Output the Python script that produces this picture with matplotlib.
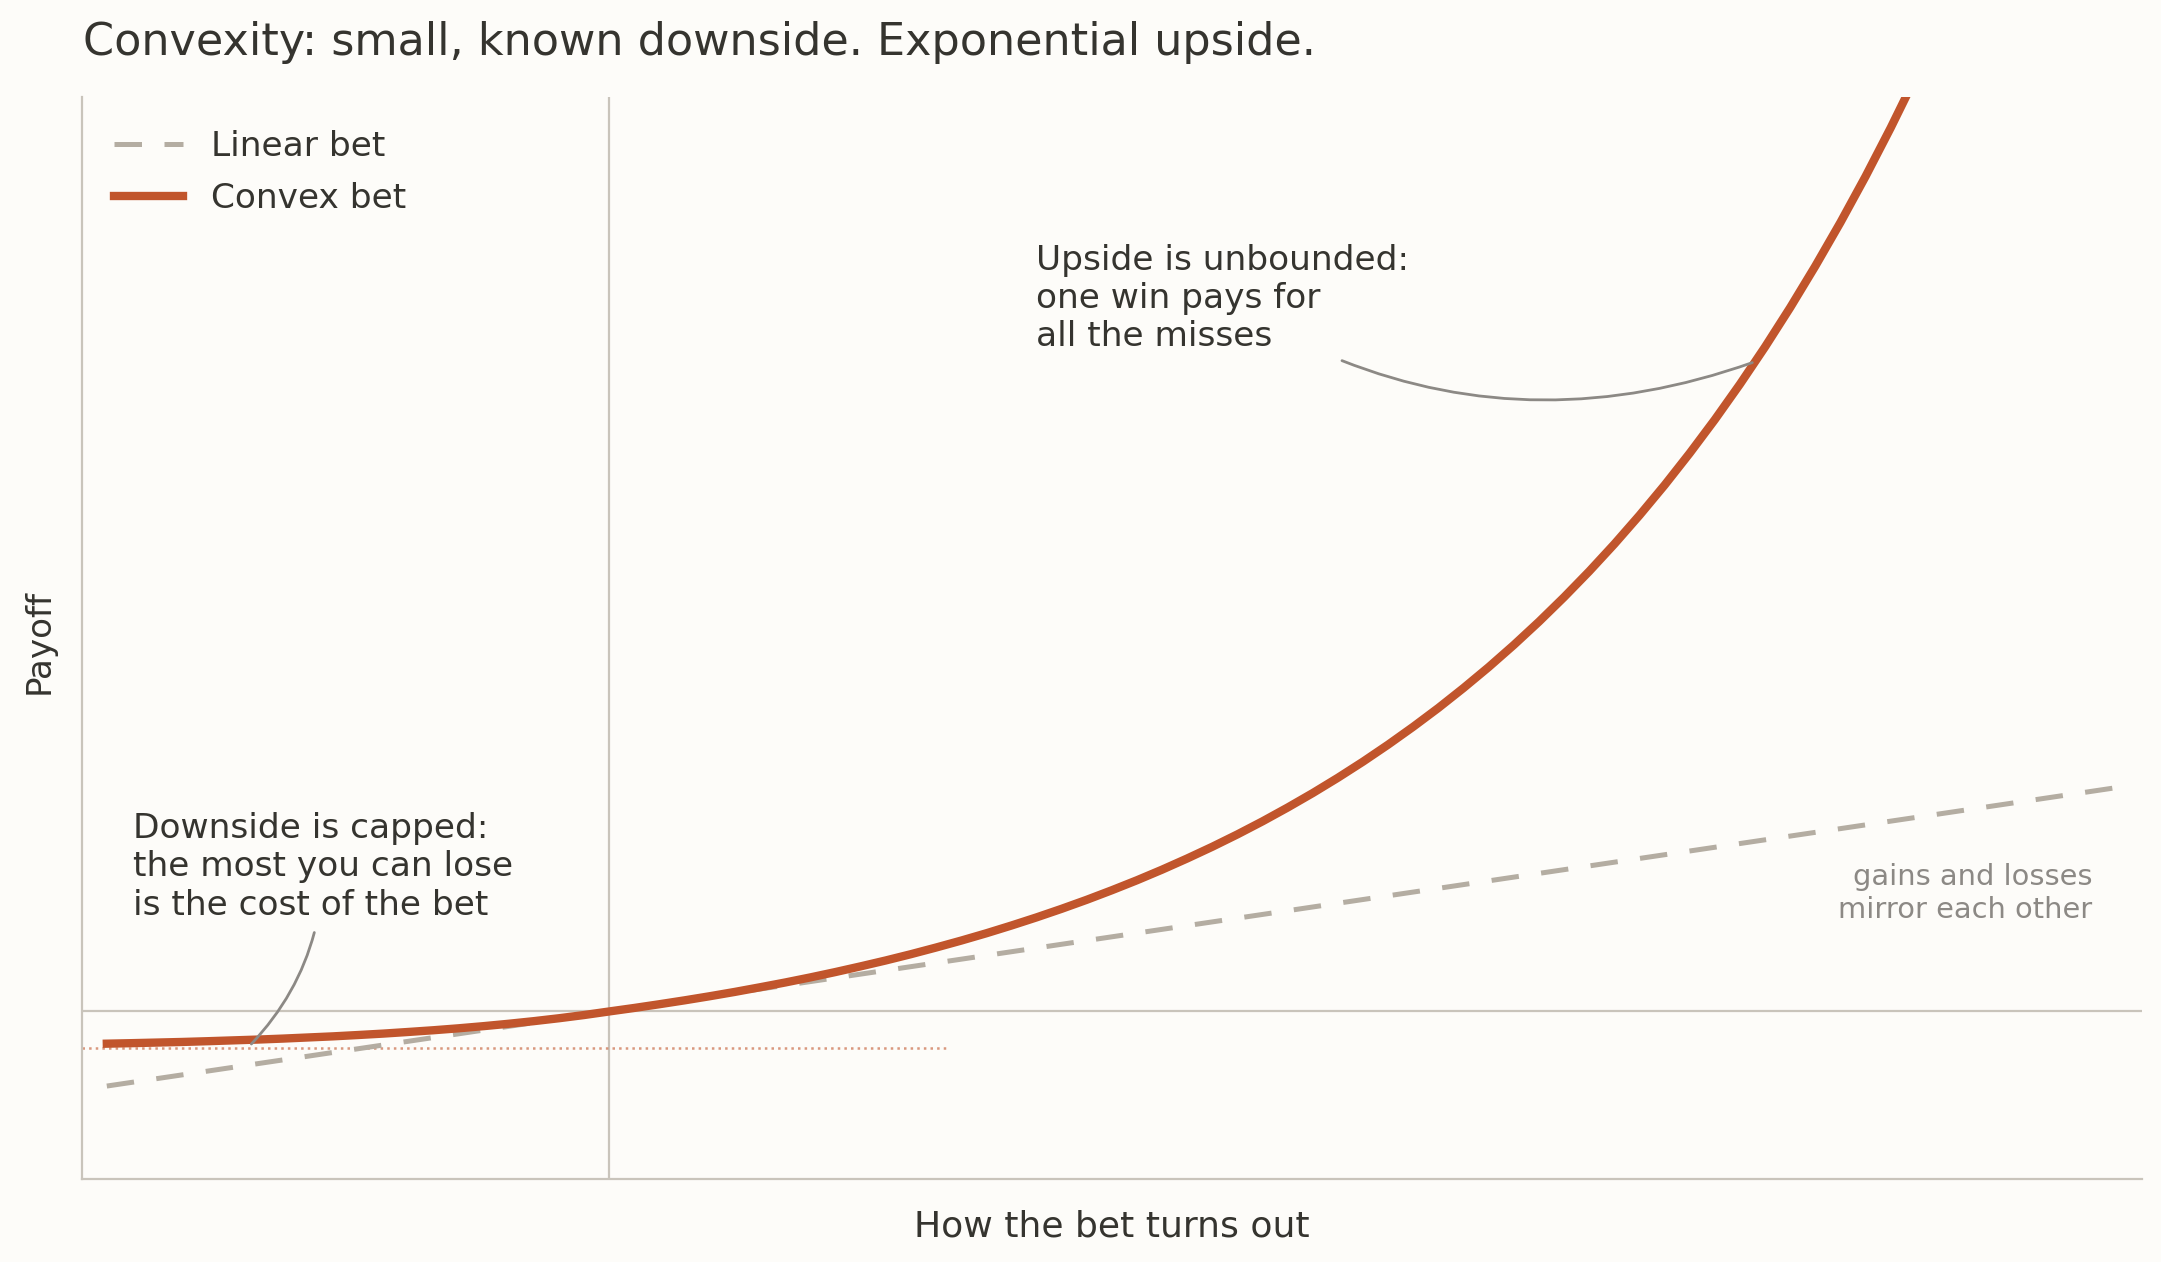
import matplotlib.pyplot as plt

# payoff chart: linear vs convex bet
# values

outcome = [-1.00, -0.95, -0.90, -0.85, -0.80, -0.75, -0.70, -0.65, -0.60, -0.55,
           -0.50, -0.45, -0.40, -0.35, -0.30, -0.25, -0.20, -0.15, -0.10, -0.05,
           0.00, 0.05, 0.10, 0.15, 0.20, 0.25, 0.30, 0.35, 0.40, 0.45,
           0.50, 0.55, 0.60, 0.65, 0.70, 0.75, 0.80, 0.85, 0.90, 0.95,
           1.00, 1.05, 1.10, 1.15, 1.20, 1.25, 1.30, 1.35, 1.40, 1.45,
           1.50, 1.55, 1.60, 1.65, 1.70, 1.75, 1.80, 1.85, 1.90, 1.95,
           2.00, 2.05, 2.10, 2.15, 2.20, 2.25, 2.30, 2.35, 2.40, 2.45,
           2.50, 2.55, 2.60, 2.65]
convex_payoff = [-0.432, -0.425, -0.417, -0.409, -0.399, -0.388, -0.377, -0.364, -0.349, -0.334,
                 -0.316, -0.297, -0.275, -0.252, -0.226, -0.197, -0.165, -0.130, -0.091, -0.048,
                 0.000, 0.047, 0.097, 0.149, 0.204, 0.262, 0.324, 0.388, 0.456, 0.528,
                 0.604, 0.683, 0.767, 0.856, 0.949, 1.047, 1.151, 1.260, 1.375, 1.496,
                 1.624, 1.758, 1.900, 2.050, 2.207, 2.373, 2.548, 2.733, 2.927, 3.132,
                 3.348, 3.576, 3.816, 4.068, 4.335, 4.615, 4.911, 5.223, 5.552, 5.898,
                 6.263, 6.648, 7.053, 7.481, 7.931, 8.406, 8.906, 9.433, 9.989, 10.574,
                 11.191, 11.842, 12.527, 13.249]

linear_outcome = [-1.0, 3.0]
linear_payoff = [-1.0, 3.0]

bet_cost = -0.49

series_labels = ["Linear bet", "Convex bet"]
title = "Convexity: small, known downside. Exponential upside."
xlabel = "How the bet turns out"
ylabel = "Payoff"
downside_note = "Downside is capped:\nthe most you can lose\nis the cost of the bet"
upside_note = "Upside is unbounded:\none win pays for\nall the misses"
linear_note = "gains and losses\nmirror each other"

# colours
bg = "#FDFCF9"
ink = "#35342F"
rust = "#C1552C"
sand = "#B4ADA2"
rule = "#C9C4BB"
pencil = "#8C8985"

fig = plt.figure(figsize=(2161 / 200, 1262 / 200), dpi=200, facecolor=bg)
ax = fig.add_axes([0.0378, 0.0655, 0.9534, 0.8574])
ax.set_facecolor(bg)

ax.axhline(0, color=rule, lw=0.8, zorder=1)
ax.axvline(0, color=rule, lw=0.8, zorder=1)
ax.axhline(bet_cost, xmin=0, xmax=0.42, color=rust, alpha=0.6,
           lw=0.9, ls=":", zorder=1)

ax.plot(linear_outcome, linear_payoff, color=sand, lw=1.8,
        dashes=(5.5, 4.5), label=series_labels[0], zorder=2)
ax.plot(outcome, convex_payoff, color=rust, lw=3.0,
        label=series_labels[1], zorder=2.5)

ax.set_xlim(-1.05, 3.05)
ax.set_ylim(-2.25, 12.25)
ax.set_xticks([])
ax.set_yticks([])
for side in ["top", "right"]:
    ax.spines[side].set_visible(False)
for side in ["left", "bottom"]:
    ax.spines[side].set_color(rule)
    ax.spines[side].set_linewidth(0.8)

leg = ax.legend(loc="upper left", frameon=False, fontsize=12.4,
                labelspacing=0.55, borderaxespad=0.55)
for t in leg.get_texts():
    t.set_color(ink)

arrow_kw = dict(arrowstyle="-", color=pencil, lw=1.0)

# multi-line text: y is the baseline of the last line
ax.annotate(downside_note, xy=(-0.72, bet_cost), xytext=(-0.948, 1.298),
            ha="left", va="baseline", fontsize=12.4, color=ink,
            arrowprops=dict(connectionstyle="arc3,rad=-0.2", **arrow_kw))

ax.annotate(upside_note, xy=(2.285, 8.72), xytext=(0.85, 8.917),
            ha="left", va="baseline", fontsize=12.4, color=ink,
            arrowprops=dict(connectionstyle="arc3,rad=0.25", **arrow_kw))

ax.text(2.952, 1.255, linear_note, ha="right", va="baseline",
        fontsize=10.4, color=pencil)

fig.text(83 / 2161, 1 - 55 / 1262, title, ha="left", va="baseline",
         fontsize=16.0, color=ink)
fig.text(1111.5 / 2161, 1 - 1236.7 / 1262, xlabel, ha="center",
         va="baseline", fontsize=13, color=ink)
fig.text(39 / 2161, 1 - 641 / 1262, ylabel, rotation=90, ha="center",
         va="center", fontsize=12.3, color=ink)

fig.savefig("out.png", dpi=200, facecolor=bg)
